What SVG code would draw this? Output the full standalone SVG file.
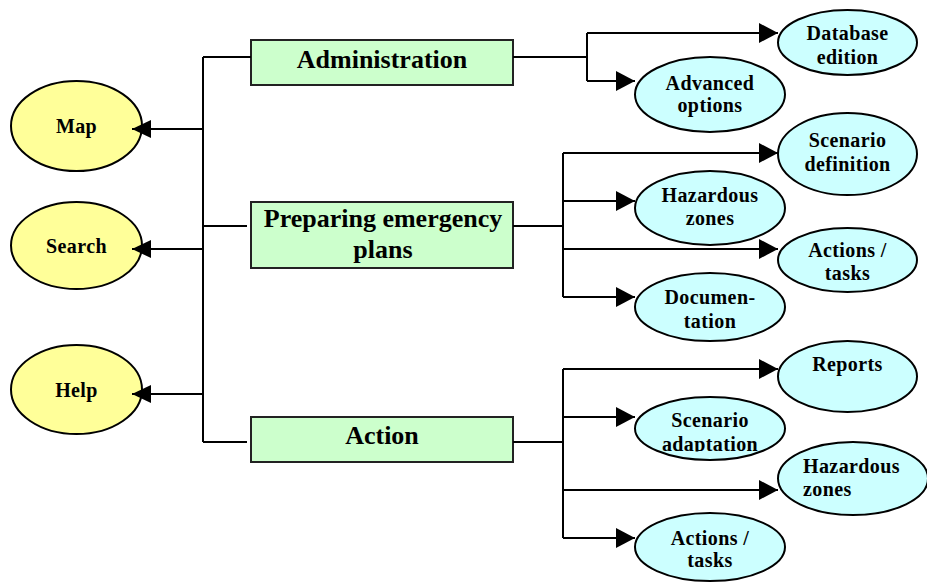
<svg xmlns="http://www.w3.org/2000/svg" width="927" height="582" viewBox="0 0 927 582">
<style>
.ln{fill:none;stroke:#000;stroke-width:2}
.box{fill:#CCFFCC;stroke:#222;stroke-width:2}
.ey{fill:#FFFF99;stroke:#000;stroke-width:2}
.ec{fill:#CCFFFF;stroke:#000;stroke-width:2}
.bt{font-family:"Liberation Serif","Times New Roman",serif;font-weight:bold;font-size:26px;text-anchor:middle;fill:#000}
.et{font-family:"Liberation Serif","Times New Roman",serif;font-weight:bold;font-size:20px;text-anchor:middle;fill:#000;letter-spacing:0.4px}
</style>
<defs>
<marker id="ah" markerUnits="userSpaceOnUse" markerWidth="19" markerHeight="20" refX="19" refY="10" orient="auto" viewBox="0 0 19 20">
<path d="M0,0 L19,10 L0,20 z" fill="#000"/>
</marker>
<marker id="ahl" markerUnits="userSpaceOnUse" markerWidth="19" markerHeight="18" refX="19" refY="9" orient="auto" viewBox="0 0 19 18">
<path d="M0,0 L19,9 L0,18 z" fill="#000"/>
</marker>
<clipPath id="clipAdapt"><rect x="600" y="380" width="200" height="71.5"/></clipPath>
</defs>
<rect width="927" height="582" fill="#fff"/>
<g id="map"><ellipse class="ey" cx="76.5" cy="126" rx="65.5" ry="45"/><text class="et" x="76.5" y="133">Map</text></g>
<g id="search"><ellipse class="ey" cx="76.5" cy="245.5" rx="65.5" ry="43.5"/><text class="et" x="76.5" y="253">Search</text></g>
<g id="help"><ellipse class="ey" cx="76.5" cy="389.5" rx="65.5" ry="44.5"/><text class="et" x="76.5" y="397">Help</text></g>
<g id="administration"><rect class="box" x="251" y="40" width="262" height="45"/><text class="bt" x="382" y="68">Administration</text></g>
<g id="preparing"><rect class="box" x="251" y="202" width="262" height="66"/><text class="bt" x="383" y="227">Preparing emergency</text><text class="bt" x="383" y="258">plans</text></g>
<g id="action"><rect class="box" x="251" y="417" width="262" height="45"/><text class="bt" x="382" y="444">Action</text></g>
<g id="database-edition"><ellipse class="ec" cx="847.5" cy="42.5" rx="69.5" ry="32.5"/><text class="et" x="847.5" y="40">Database</text><text class="et" x="847.5" y="64">edition</text></g>
<g id="advanced-options"><ellipse class="ec" cx="710" cy="94.5" rx="75" ry="37.5"/><text class="et" x="710" y="90">Advanced</text><text class="et" x="710" y="112">options</text></g>
<g id="scenario-definition"><ellipse class="ec" cx="847.5" cy="154" rx="69.5" ry="41"/><text class="et" x="847.5" y="147">Scenario</text><text class="et" x="847.5" y="171">definition</text></g>
<g id="hazardous-zones-1"><ellipse class="ec" cx="710" cy="208" rx="75" ry="37"/><text class="et" x="710" y="202">Hazardous</text><text class="et" x="710" y="225">zones</text></g>
<g id="actions-tasks-1"><ellipse class="ec" cx="847.5" cy="260" rx="69.5" ry="32"/><text class="et" x="847.5" y="257">Actions /</text><text class="et" x="847.5" y="280">tasks</text></g>
<g id="documentation"><ellipse class="ec" cx="710" cy="307" rx="75" ry="34"/><text class="et" x="710" y="304">Documen-</text><text class="et" x="710" y="328">tation</text></g>
<g id="reports"><ellipse class="ec" cx="847.5" cy="376.5" rx="69.5" ry="35.5"/><text class="et" x="847.5" y="371">Reports</text></g>
<g id="scenario-adaptation"><ellipse class="ec" cx="710" cy="428.5" rx="75" ry="31.5"/><text class="et" x="710" y="427">Scenario</text><text class="et" x="710" y="450.5" clip-path="url(#clipAdapt)">adaptation</text></g>
<g id="hazardous-zones-2"><ellipse class="ec" cx="853" cy="478.5" rx="75" ry="36.5"/><text class="et" x="803" y="473" style="text-anchor:start">Hazardous</text><text class="et" x="803" y="496" style="text-anchor:start">zones</text></g>
<g id="actions-tasks-2"><ellipse class="ec" cx="710" cy="547" rx="75" ry="34"/><text class="et" x="710" y="545">Actions /</text><text class="et" x="710" y="567">tasks</text></g>
<g id="connectors">
<path class="ln" d="M203,57 V442"/>
<path class="ln" d="M203,57 H251"/>
<path class="ln" d="M203,226 H247"/>
<path class="ln" d="M203,442 H247"/>
<path class="ln" d="M203,129 H132" marker-end="url(#ahl)"/>
<path class="ln" d="M203,249 H132" marker-end="url(#ahl)"/>
<path class="ln" d="M203,394 H132" marker-end="url(#ahl)"/>
<path class="ln" d="M513,57 H587 M587,33 V81"/>
<path class="ln" d="M587,33 H778" marker-end="url(#ah)"/>
<path class="ln" d="M587,81 H635" marker-end="url(#ah)"/>
<path class="ln" d="M513,226 H563 M563,153 V297"/>
<path class="ln" d="M563,153 H778" marker-end="url(#ah)"/>
<path class="ln" d="M563,201 H635" marker-end="url(#ah)"/>
<path class="ln" d="M563,249 H778" marker-end="url(#ah)"/>
<path class="ln" d="M563,297 H635" marker-end="url(#ah)"/>
<path class="ln" d="M513,442 H563 M563,369 V538"/>
<path class="ln" d="M563,369 H778" marker-end="url(#ah)"/>
<path class="ln" d="M563,417 H635" marker-end="url(#ah)"/>
<path class="ln" d="M563,490 H778" marker-end="url(#ah)"/>
<path class="ln" d="M563,538 H635" marker-end="url(#ah)"/>
</g>
</svg>
